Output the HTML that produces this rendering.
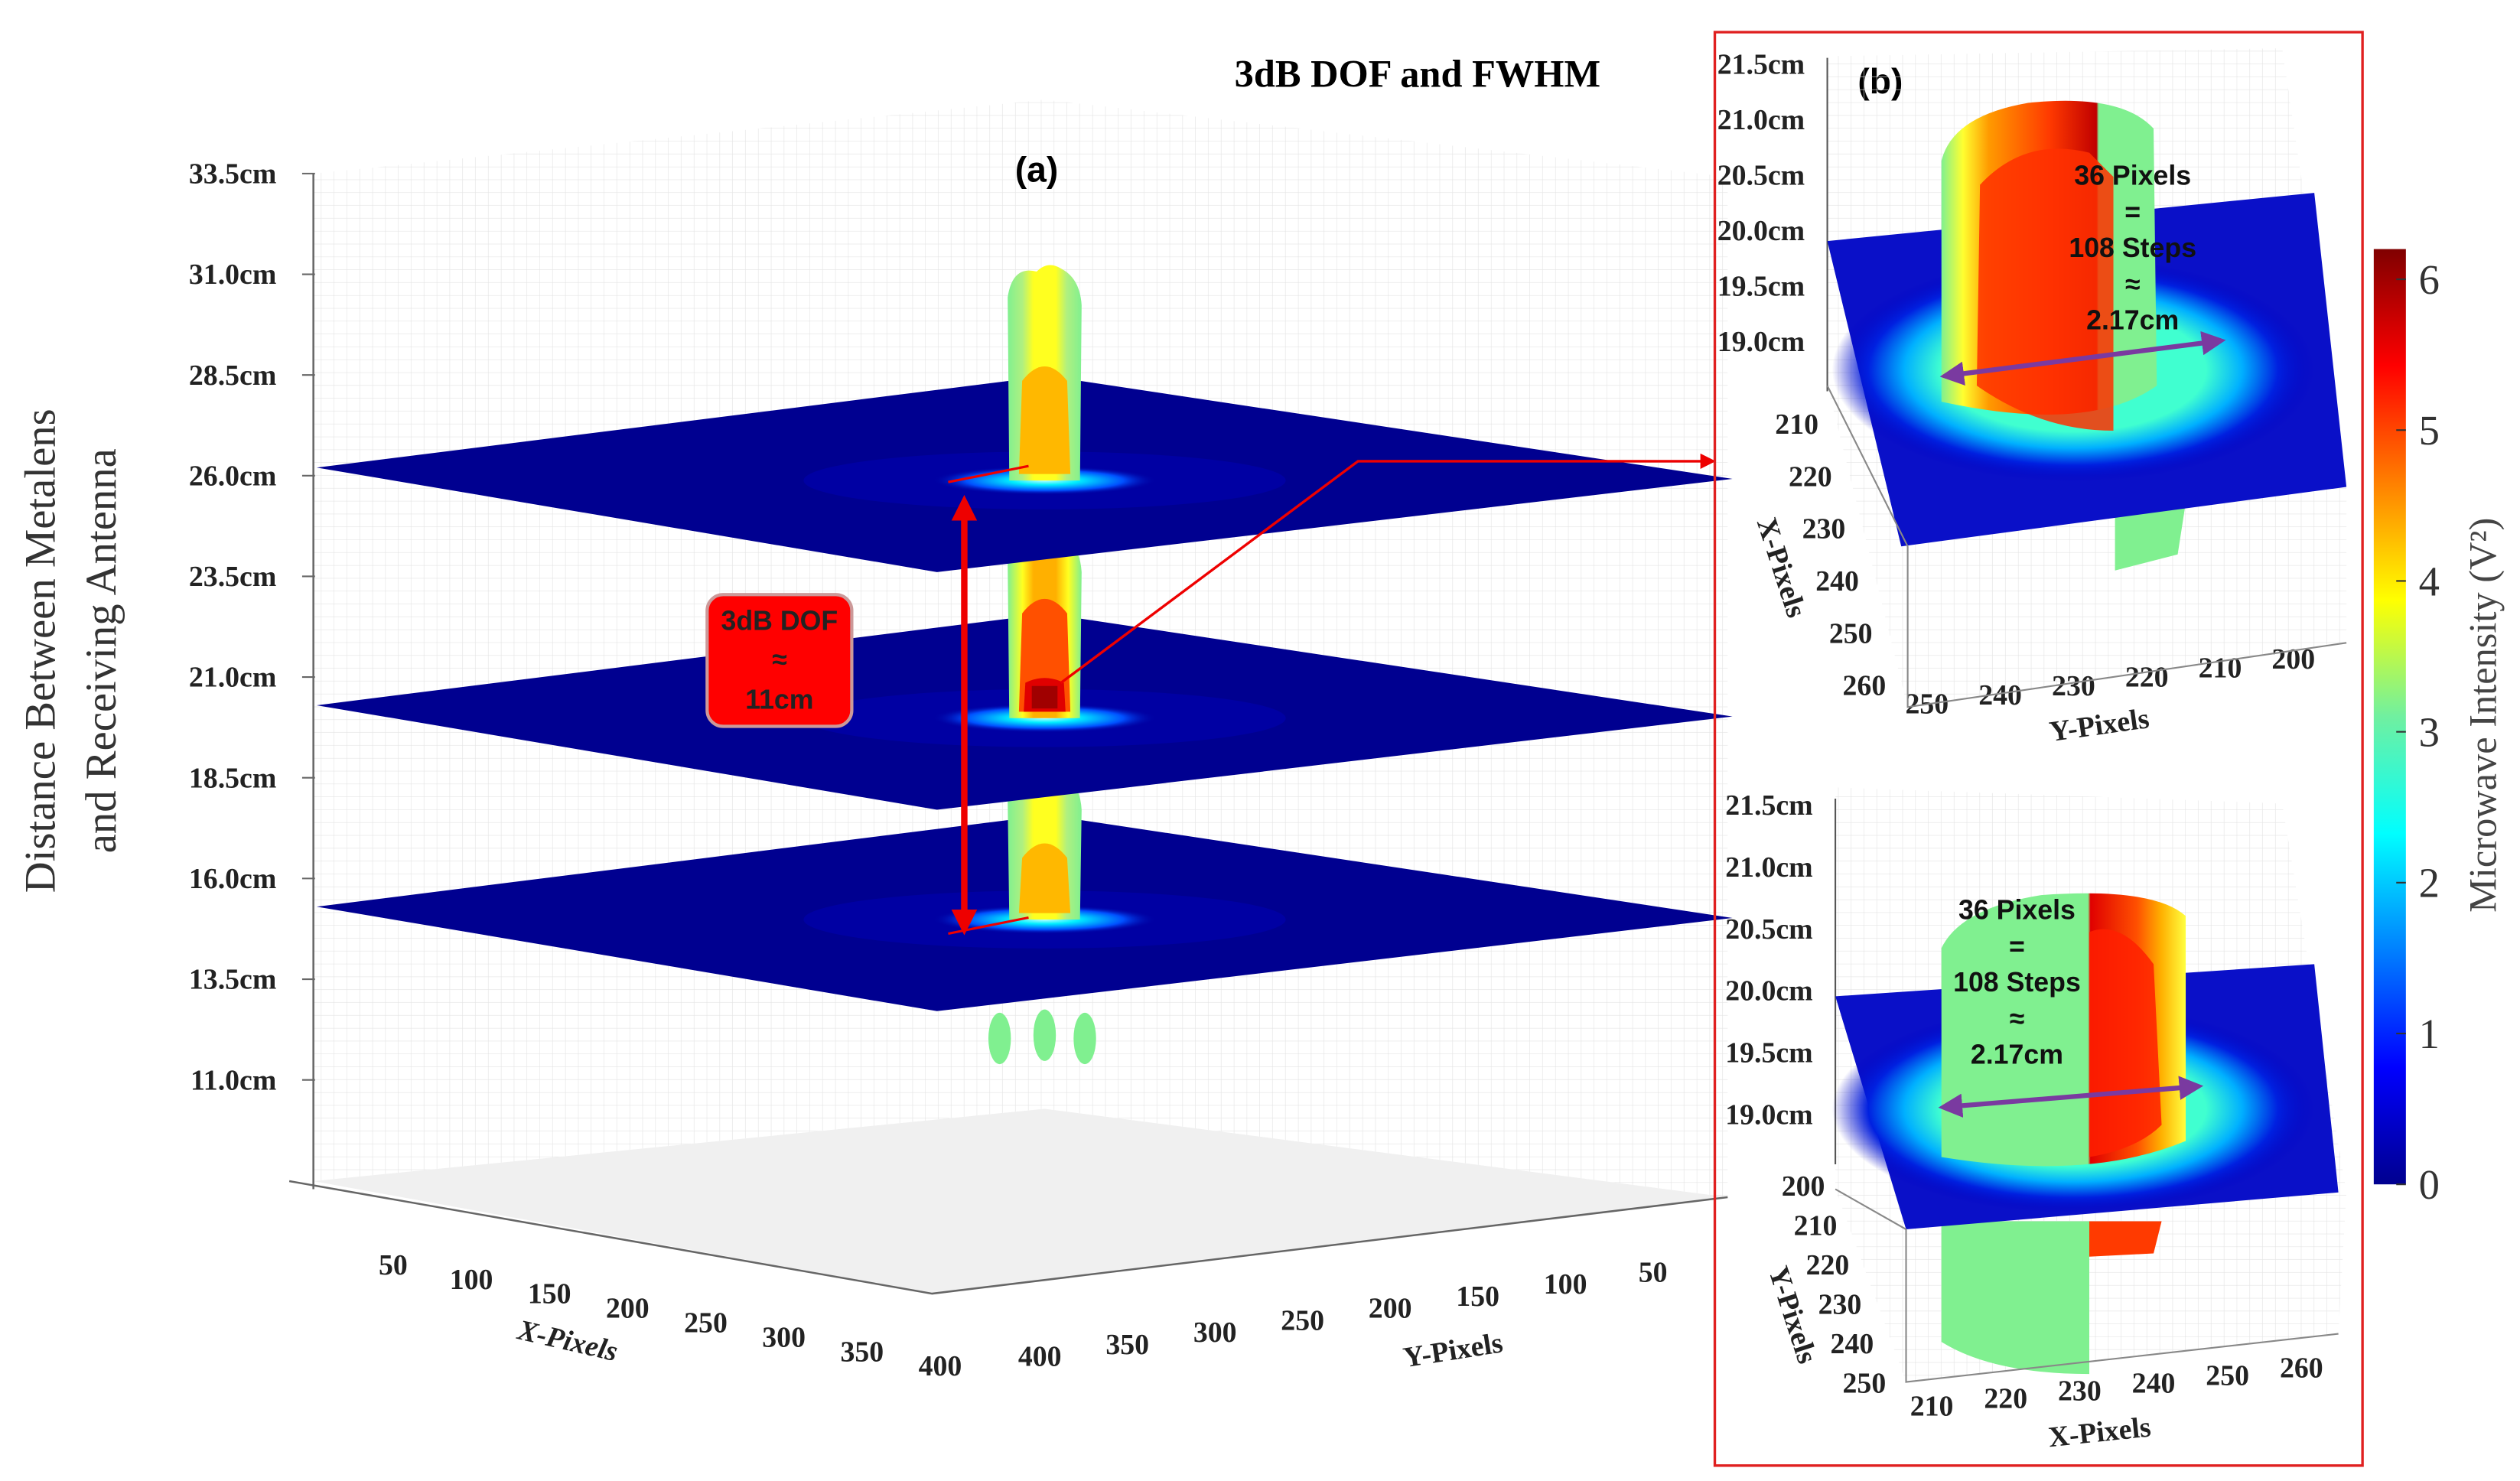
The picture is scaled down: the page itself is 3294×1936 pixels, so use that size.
<!DOCTYPE html>
<html><head><meta charset="utf-8">
<style>
html,body{margin:0;padding:0;background:#fff;}
svg{display:block;}
text{font-family:"Liberation Serif",serif;}
.tk{font-weight:bold;font-size:18px;fill:#222;}
.ar{font-family:"Liberation Sans",sans-serif;font-weight:bold;}
</style></head>
<body>
<svg id="fig" width="3294" height="1936" viewBox="0 0 1568 921.6" preserveAspectRatio="none" xmlns="http://www.w3.org/2000/svg">
<defs>
<pattern id="grid" width="8" height="8" patternUnits="userSpaceOnUse"><path d="M8 0V8M0 8H8" stroke="#e4e4e4" stroke-width="0.6" fill="none"/></pattern>
<linearGradient id="jet" x1="0" y1="1" x2="0" y2="0">
<stop offset="0" stop-color="#00008f"/><stop offset="0.125" stop-color="#0000ff"/><stop offset="0.375" stop-color="#00ffff"/><stop offset="0.5" stop-color="#70f0a0"/><stop offset="0.625" stop-color="#ffff00"/><stop offset="0.875" stop-color="#ff0000"/><stop offset="1" stop-color="#800000"/>
</linearGradient>
<radialGradient id="spot"><stop offset="0" stop-color="#bff"/><stop offset="0.3" stop-color="#0ef"/><stop offset="0.7" stop-color="#0050ff"/><stop offset="1" stop-color="#0000a0" stop-opacity="0"/></radialGradient>
<linearGradient id="beamA" x1="0" y1="0" x2="1" y2="0"><stop offset="0" stop-color="#80f090"/><stop offset="0.2" stop-color="#b0f080"/><stop offset="0.35" stop-color="#ffff20"/><stop offset="0.65" stop-color="#ffff20"/><stop offset="0.8" stop-color="#b0f080"/><stop offset="1" stop-color="#80f090"/></linearGradient>
<linearGradient id="beamB" x1="0" y1="0" x2="1" y2="0"><stop offset="0" stop-color="#80f090"/><stop offset="0.2" stop-color="#ffff20"/><stop offset="0.35" stop-color="#ffb000"/><stop offset="0.65" stop-color="#ffb000"/><stop offset="0.82" stop-color="#ffff20"/><stop offset="1" stop-color="#80f090"/></linearGradient>
<linearGradient id="cylT" x1="0" y1="0" x2="1" y2="0"><stop offset="0" stop-color="#80f090"/><stop offset="0.1" stop-color="#ffff30"/><stop offset="0.22" stop-color="#ff9a00"/><stop offset="0.5" stop-color="#ff3a00"/><stop offset="0.72" stop-color="#c00000"/><stop offset="0.73" stop-color="#80f090"/><stop offset="1" stop-color="#80f090"/></linearGradient>
<linearGradient id="cylB" x1="0" y1="0" x2="1" y2="0"><stop offset="0" stop-color="#80f090"/><stop offset="0.6" stop-color="#80f090"/><stop offset="0.61" stop-color="#e00000"/><stop offset="0.8" stop-color="#ff5000"/><stop offset="0.9" stop-color="#ffb000"/><stop offset="1" stop-color="#ffff40"/></linearGradient>
<radialGradient id="ring" cx="0.5" cy="0.5" r="0.5"><stop offset="0.55" stop-color="#40ffd0"/><stop offset="0.7" stop-color="#00b0ff"/><stop offset="0.85" stop-color="#0020e0"/><stop offset="1" stop-color="#0000c0" stop-opacity="0"/></radialGradient>
<marker id="ahR" markerWidth="6" markerHeight="6" refX="5" refY="3" orient="auto"><path d="M0 0L6 3L0 6Z" fill="#e00"/></marker>
<marker id="ahP" markerWidth="5" markerHeight="5" refX="4" refY="2.5" orient="auto-start-reverse"><path d="M0 0L5 2.5L0 5Z" fill="#7a3aa0"/></marker>
<marker id="ahR2" markerWidth="4" markerHeight="4" refX="3" refY="2" orient="auto-start-reverse"><path d="M0 0L4 2L0 4Z" fill="#e00"/></marker>
</defs>

<g>
<path d="M195 108L650 62L650 690L195 735Z" fill="url(#grid)"/>
<path d="M650 62L1075 110L1075 745L650 690Z" fill="url(#grid)"/>
<path d="M195 735L650 690L1075 745L580 805Z" fill="#f0f0f0"/>
<path d="M195 108V740M180 735L580 805L1075 745" stroke="#666" stroke-width="1.2" fill="none"/>
</g>
<text x="882" y="54" text-anchor="middle" font-size="24" font-weight="bold">3dB DOF and FWHM</text>
<text x="645" y="113" text-anchor="middle" font-size="22" class="ar">(a)</text>
<g transform="translate(44,405) rotate(-90)">
<text x="0" y="-10" text-anchor="middle" font-size="27" fill="#333">Distance Between Metalens</text>
<text x="0" y="28" text-anchor="middle" font-size="27" fill="#333">and Receiving Antenna</text>
</g>
<g id="zticks"></g><g id="xticks"></g><g id="yticks"></g>
<text transform="translate(352,840) rotate(13)" text-anchor="middle" class="tk" font-size="19" font-style="italic">X-Pixels</text>
<text transform="translate(905,846) rotate(-9)" text-anchor="middle" class="tk" font-size="19">Y-Pixels</text>
<g id="stack"></g>

<g>
<line x1="600" y1="312" x2="600" y2="578" stroke="#e00" stroke-width="4" marker-start="url(#ahR2)" marker-end="url(#ahR2)"/>
<line x1="590" y1="300" x2="640" y2="290" stroke="#e00" stroke-width="1.5"/>
<line x1="590" y1="581" x2="640" y2="571" stroke="#e00" stroke-width="1.5"/>
<rect x="440" y="370" width="90" height="82" rx="10" fill="#f00" stroke="#c99" stroke-width="2"/>
<text x="485" y="392" text-anchor="middle" font-size="17" fill="#222" class="ar">3dB DOF</text>
<text x="485" y="416" text-anchor="middle" font-size="17" fill="#222" class="ar">≈</text>
<text x="485" y="441" text-anchor="middle" font-size="17" fill="#222" class="ar">11cm</text>
<polyline points="660,425 845,287 1066,287" fill="none" stroke="#e00" stroke-width="1.6" marker-end="url(#ahR)"/>
</g>

<rect x="1067" y="20" width="403" height="892" fill="none" stroke="#e02020" stroke-width="1.6"/>
<text x="1170" y="58" text-anchor="middle" font-size="22" class="ar">(b)</text>
<g id="pb"></g>

<rect x="1477" y="155" width="20" height="582" fill="url(#jet)"/>
<g id="cbticks"></g>
<text transform="translate(1553,445) rotate(-90)" text-anchor="middle" font-size="24" fill="#444">Microwave Intensity (V²)</text>
</svg>

<script>
const NS="http://www.w3.org/2000/svg";
const zTicks=[33.5,31.0,28.5,26.0,23.5,21.0,18.5,16.0,13.5,11.0];
const xTicks=[50,100,150,200,250,300,350,400];
const yTicks=[400,350,300,250,200,150,100,50];
const planeZ=[26.2,20.3,15.3];
const planePeak=[4.2,6.1,4.0];
const cbTicks=[0,1,2,3,4,5,6];
const bTopZ=["21.5cm","21.0cm","20.5cm","20.0cm","19.5cm","19.0cm"];
const bTopX=[210,220,230,240,250,260];
const bTopY=[250,240,230,220,210,200];
const bBotZ=["21.5cm","21.0cm","20.5cm","20.0cm","19.5cm","19.0cm"];
const bBotY=[200,210,220,230,240,250];
const bBotX=[210,220,230,240,250,260];
const fwhmPixels=[36,36];

function zY(z){return 108+(33.5-z)*(672-108)/22.5;}
function xPos(v){return [196+v*(585-196)/400, 766+v*(838-766)/400];}
function yPos(v){return [1083-v*(1083-647)/400, 778+v*(838-778)/400];}
function el(tag,attrs,parent,txt){const e=document.createElementNS(NS,tag);for(const k in attrs)e.setAttribute(k,attrs[k]);if(txt!==undefined)e.textContent=txt;parent.appendChild(e);return e;}

const zt=document.getElementById('zticks');
zTicks.forEach(z=>{const y=zY(z);
 const t=el('text',{x:172,y:y+6,'text-anchor':'end',class:'tk'},zt,z.toFixed(1)+'cm');
 
 
 el('line',{x1:188,y1:y,x2:196,y2:y,stroke:'#666'},zt);});
const xt=document.getElementById('xticks');
xTicks.forEach(v=>{const p=xPos(v);
 const t=el('text',{x:p[0],y:p[1]+18,'text-anchor':'middle',class:'tk','font-size':19},xt,v);
 
 });
const yt=document.getElementById('yticks');
yTicks.forEach(v=>{const p=yPos(v);
 const t=el('text',{x:p[0],y:p[1]+12,'text-anchor':'middle',class:'tk','font-size':19},yt,v);
 
 });

const st=document.getElementById('stack');
function peakColor(v){return v>5.5?'#ff5000':v>4.8?'#ff7000':v>4.3?'#ff9a00':'#ffb800';}
function beam(top,bot,peak,grad,name){
 const g=el('g',{},st);
 
 
 el('path',{d:`M628 ${bot} L627 ${top+20} Q630 ${top} 645 ${top+4} Q652 ${top-3} 660 ${top+2} Q672 ${top+8} 673 ${top+25} L672 ${bot} Z`,fill:'url(#'+grad+')'},g);
 const h=bot-top, ct=bot-h*(0.3+peak*0.06);
 el('path',{d:`M${634} ${bot-4} L${636} ${ct+12} Q650 ${ct-6} ${664} ${ct+12} L${666} ${bot-4} Z`,fill:peakColor(peak)},g);
 if(peak>5.5){el('path',{d:`M637 ${bot-4} L638 ${bot-22} Q650 ${bot-28} 662 ${bot-22} L663 ${bot-4}Z`,fill:'#e00000'},g);
  el('rect',{x:642,y:bot-20,width:16,height:14,fill:'#a00000'},g);}
}
function plane(z,i){
 const y0=zY(z);
 const g=el('g',{},st);
 
 
 el('path',{d:`M197 ${y0}L652 ${y0-57}L1078 ${y0+7}L583 ${y0+65}Z`,fill:'#000090'},g);
 el('ellipse',{cx:650,cy:y0+8,rx:150,ry:18,fill:'#0000d0',opacity:0.3},g);
 el('ellipse',{cx:650,cy:y0+8,rx:70,ry:9,fill:'url(#spot)'},g);
}
const yl=zY(planeZ[2]);
[[622,62],[650,60],[675,62]].forEach(d=>{el('ellipse',{cx:d[0],cy:yl+d[1]+20,rx:7,ry:16,fill:'#80f090'},st);});
plane(planeZ[2],2);
beam(zY(planeZ[1])+40,zY(planeZ[2])+8,planePeak[2],'beamA','beam-lower');
plane(planeZ[1],1);
beam(zY(planeZ[0])+40,zY(planeZ[1])+8,planePeak[1],'beamB','beam-middle');
plane(planeZ[0],0);
beam(165,zY(planeZ[0])+8,planePeak[0],'beamA','beam-upper');

const cb=document.getElementById('cbticks');
cbTicks.forEach(v=>{const y=737-v*(737-155)/6.2;
 const t=el('text',{x:1505,y:y+9,'font-size':26,fill:'#333'},cb,v);
 
 
 el('line',{x1:1491,y1:y,x2:1497,y2:y,stroke:'#333'},cb);});

const pb=document.getElementById('pb');
function subpanel(o){
 const g=el('g',{},pb);
 
 
 el('path',{d:o.wall,fill:'url(#grid)'},g);
 el('line',{x1:o.ax,y1:o.z0-5,x2:o.ax,y2:o.z0+o.zstep*5+30,stroke:'#555'},g);
 o.zl.forEach((s,i)=>{const t=el('text',{x:o.ax-14,y:o.z0+i*o.zstep+5,'text-anchor':'end',class:'tk','font-size':14},g,s);
  
  });
 if(o.below) el('path',{d:o.below,fill:o.belowFill},g);
 if(o.below2) el('path',{d:o.below2,fill:o.below2Fill},g);
 el('path',{d:o.plane,fill:'#0a10c8'},g);
 el('ellipse',{cx:o.cx,cy:o.cy,rx:o.rx,ry:o.ry,fill:'url(#ring)'},g);
 el('path',{d:o.cyl,fill:o.cylFill},g);
 el('path',{d:o.inner,fill:o.innerFill,opacity:0.85},g);
 const a=el('line',{x1:o.arr[0],y1:o.arr[1],x2:o.arr[2],y2:o.arr[3],stroke:'#7a3aa0','stroke-width':3,'marker-start':'url(#ahP)','marker-end':'url(#ahP)'},g);
 
 
 const lines=[o.px+' Pixels','=',(o.px*3)+' Steps','≈','2.17cm'];
 lines.forEach((s,i)=>{el('text',{x:o.tx,y:o.ty+i*22.5,'text-anchor':'middle',class:'ar','font-size':17,fill:'#111'},g,s);});
 o.t1.forEach((v,i)=>{const t=el('text',{x:o.t1p[0]+i*o.t1d[0],y:o.t1p[1]+i*o.t1d[1],'text-anchor':'middle',class:'tk','font-size':14},g,v);
  
  });
 o.t2.forEach((v,i)=>{const t=el('text',{x:o.t2p[0]+i*o.t2d[0],y:o.t2p[1]+i*o.t2d[1],'text-anchor':'middle',class:'tk','font-size':14},g,v);
  
  });
 el('polyline',{points:o.base,fill:'none',stroke:'#888'},g);
 el('text',{transform:`translate(${o.l1[0]},${o.l1[1]}) rotate(${o.l1[2]})`,'text-anchor':'middle',class:'tk','font-size':19},g,o.l1[3]);
 el('text',{transform:`translate(${o.l2[0]},${o.l2[1]}) rotate(${o.l2[2]})`,'text-anchor':'middle',class:'tk','font-size':19},g,o.l2[3]);
}
subpanel({name:'panel-b-top',wall:'M1137 35L1420 30L1460 300L1460 400L1187 440L1137 240Z',ax:1137,z0:41,zstep:34.5,zl:bTopZ,
 below:'M1316 300L1362 300L1355 345L1316 355Z',belowFill:'#80f090',
 plane:'M1137 150L1440 120L1460 303L1183 340Z',cx:1290,cy:230,rx:150,ry:70,
 cyl:'M1208 250L1208 100Q1215 72 1262 64Q1320 58 1340 80L1342 240Q1300 270 1208 250Z',cylFill:'url(#cylT)',
 inner:'M1230 240L1232 115Q1260 85 1300 95L1315 110L1315 268Q1270 268 1230 240Z',innerFill:'#ff3000',
 arr:[1210,234,1382,212],px:fwhmPixels[0],tx:1327,ty:115,
 t1:bTopX,t1p:[1118,270],t1d:[8.4,32.5],t2:bTopY,t2p:[1199,444],t2d:[45.6,-5.6],
 base:'1137,240 1187,340 1187,440 1460,400',l1:[1103,355,72,'X-Pixels'],l2:[1307,457,-8,'Y-Pixels']});
subpanel({name:'panel-b-bottom',wall:'M1142 490L1420 500L1460 742L1455 830L1186 860L1142 740Z',ax:1142,z0:502,zstep:38.5,zl:bBotZ,
 below:'M1208 760L1300 760L1300 855Q1240 855 1208 835Z',belowFill:'#80f090',
 below2:'M1300 760L1345 760L1340 780L1300 782Z',below2Fill:'#ff3a00',
 plane:'M1142 620L1440 600L1455 742L1186 765Z',cx:1290,cy:690,rx:150,ry:65,
 cyl:'M1208 720L1208 590Q1220 565 1270 557Q1340 552 1360 570L1360 710Q1300 735 1208 720Z',cylFill:'url(#cylB)',
 inner:'M1300 720L1300 580Q1320 572 1340 600L1345 700Q1330 715 1300 720Z',innerFill:'#ff2000',
 arr:[1209,689,1368,676],px:fwhmPixels[1],tx:1255,ty:572,
 t1:bBotY,t1p:[1122,744],t1d:[7.6,24.5],t2:bBotX,t2p:[1202,881],t2d:[46,-4.8],
 base:'1142,740 1186,765 1186,860 1455,830',l1:[1110,820,72,'Y-Pixels'],l2:[1307,897,-6,'X-Pixels']});
</script>
</body></html>
